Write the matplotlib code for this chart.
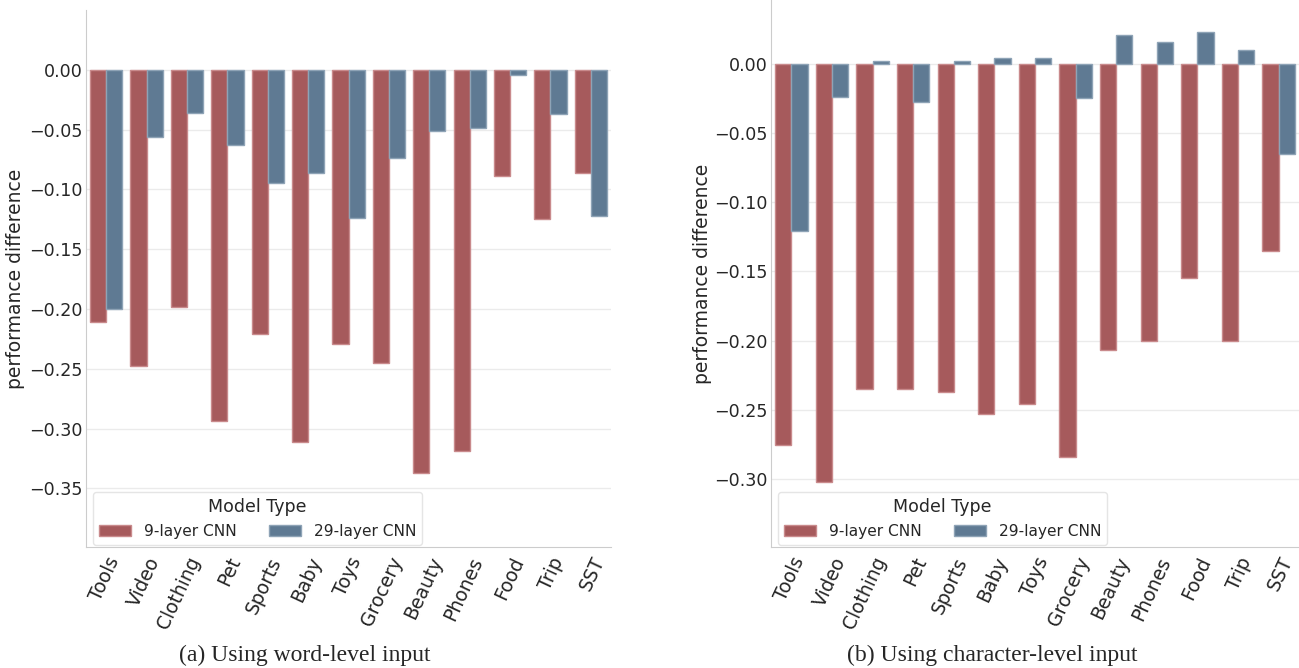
import numpy as np
import matplotlib
matplotlib.use("Agg")
import matplotlib.pyplot as plt
import seaborn as sns

sns.set_style("whitegrid")
plt.rcParams['font.family'] = ['DejaVu Sans']

datasets = ["Tools", "Video", "Clothing", "Pet", "Sports", "Baby", "Toys",
            "Grocery", "Beauty", "Phones", "Food", "Trip", "SST"]

# word-level input
word_9 = [-0.211, -0.248, -0.198, -0.294, -0.221, -0.311, -0.229,
          -0.245, -0.337, -0.319, -0.089, -0.125, -0.086]
word_29 = [-0.200, -0.056, -0.036, -0.063, -0.095, -0.086, -0.124,
           -0.074, -0.051, -0.049, -0.004, -0.037, -0.122]

# character-level input
char_9 = [-0.275, -0.302, -0.235, -0.235, -0.237, -0.253, -0.246,
          -0.284, -0.207, -0.200, -0.155, -0.200, -0.135]
char_29 = [-0.121, -0.024, 0.002, -0.028, 0.002, 0.004, 0.004,
           -0.025, 0.021, 0.016, 0.023, 0.010, -0.065]

red = "#a65a5c"
blue = "#5f7a93"
red_edge = "#c98a8c"
blue_edge = "#8ea3b6"


def draw(ax, v9, v29, ylim, yticks, label_x):
    x = np.arange(len(datasets))
    w = 0.4
    ax.bar(x - w / 2, v9, w, color=red, edgecolor=red_edge, linewidth=1,
           label="9-layer CNN", zorder=2)
    ax.bar(x + w / 2, v29, w, color=blue, edgecolor=blue_edge, linewidth=1,
           label="29-layer CNN", zorder=2)
    ax.set_xlim(-0.5, len(datasets) - 0.5)
    ax.set_ylim(*ylim)
    ax.set_yticks(yticks)
    ax.set_yticklabels([f"{t:.2f}".replace("-", "\u2212") for t in yticks], fontsize=12.6)
    ax.set_xticks(x)
    ax.set_xticklabels(datasets, rotation=65, ha="right", rotation_mode="anchor",
                       fontsize=13.5)
    ax.set_ylabel("performance difference", fontsize=13.5)
    ax.yaxis.set_label_coords(label_x, 0.5)
    ax.grid(axis="x", visible=False)
    ax.grid(axis="y", color="#ebebeb", linewidth=1, zorder=0)
    for s in ["top", "right"]:
        ax.spines[s].set_visible(False)
    for s in ["left", "bottom"]:
        ax.spines[s].set_color("#cccccc")
    ax.tick_params(axis="y", length=0, pad=2.2)
    ax.tick_params(axis="x", length=0, pad=5)
    leg = ax.legend(title="Model Type", ncol=2, loc="lower left", fontsize=11.1,
                    title_fontsize=12.5, frameon=True, handlelength=2.07,
                    handleheight=0.7, columnspacing=2.07, handletextpad=0.84,
                    borderaxespad=0, bbox_to_anchor=(7 / 525, 2 / 537))
    leg.get_frame().set_edgecolor("#e5e5e5")
    leg.get_frame().set_alpha(1)
    leg.set_zorder(5)


fig = plt.figure(figsize=(12.99, 6.68), dpi=100)
ax1 = fig.add_axes([86 / 1299, 121 / 668, 525 / 1299, 537 / 668])
ax2 = fig.add_axes([771 / 1299, 121 / 668, 528 / 1299, 547 / 668])

draw(ax1, word_9, word_29, (-0.399, 0.05),
     [0.0, -0.05, -0.10, -0.15, -0.20, -0.25, -0.30, -0.35], -0.116)
draw(ax2, char_9, char_29, (-0.349, 0.046),
     [0.0, -0.05, -0.10, -0.15, -0.20, -0.25, -0.30], -0.112)

fig.text(305 / 1299, 1 - 655 / 668, "(a) Using word-level input",
         ha="center", va="center", fontsize=17, family="Liberation Serif")
fig.text(992 / 1299, 1 - 655 / 668, "(b) Using character-level input",
         ha="center", va="center", fontsize=17, family="Liberation Serif")

fig.savefig("out.png", dpi=100)
